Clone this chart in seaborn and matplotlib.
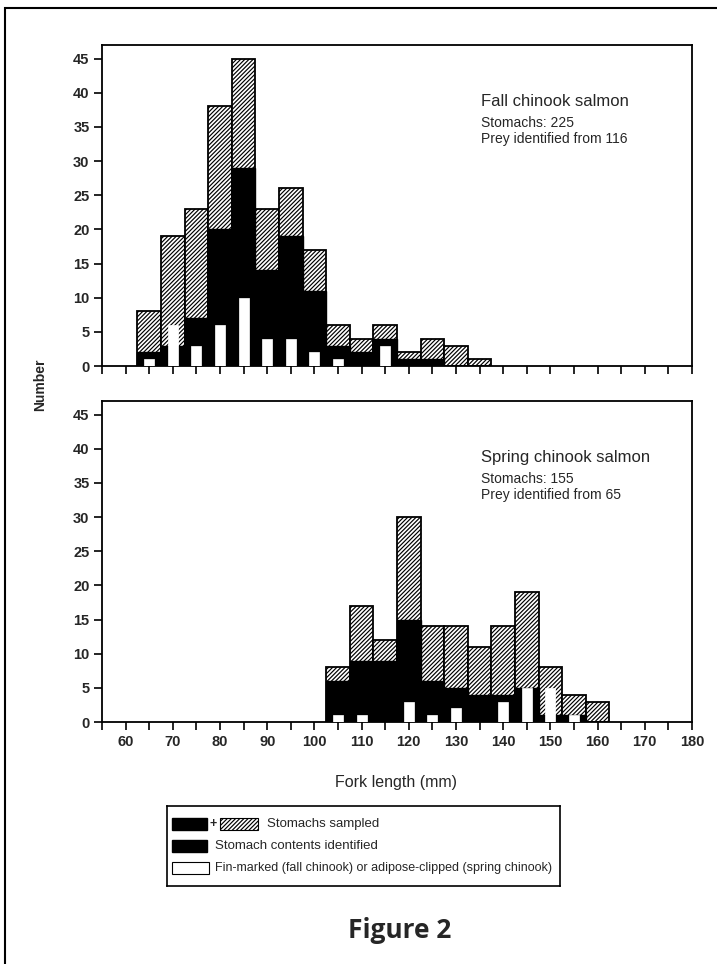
import matplotlib
matplotlib.use("Agg")
import matplotlib.pyplot as plt
import seaborn as sns
import numpy as np
from matplotlib.patches import Rectangle

sns.set_style("white")
plt.rcParams['font.family'] = ['Liberation Sans', 'DejaVu Sans']
plt.rcParams['hatch.linewidth'] = 0.85

# ---- data ----
fall_length = [65, 70, 75, 80, 85, 90, 95, 100, 105, 110, 115, 120, 125, 130, 135]
fall_sampled = [8, 19, 23, 38, 45, 23, 26, 17, 6, 4, 6, 2, 4, 3, 1]
fall_identified = [2, 3, 7, 20, 29, 14, 19, 11, 3, 2, 4, 1, 1, 0, 0]
fall_marked = [1, 6, 3, 6, 10, 4, 4, 2, 1, 0, 3, 0, 0, 0, 0]

spring_length = [105, 110, 115, 120, 125, 130, 135, 140, 145, 150, 155, 160]
spring_sampled = [8, 17, 12, 30, 14, 14, 11, 14, 19, 8, 4, 3]
spring_identified = [6, 9, 9, 15, 6, 5, 4, 4, 5, 1, 1, 0]
spring_marked = [1, 1, 0, 3, 1, 2, 0, 3, 5, 5, 1, 0]

y_ticks = [0, 5, 10, 15, 20, 25, 30, 35, 40, 45]
x_ticks = [60, 70, 80, 90, 100, 110, 120, 130, 140, 150, 160, 170, 180]

panels = [
    ("Fall chinook salmon", "Stomachs: 225", "Prey identified from 116",
     fall_length, fall_sampled, fall_identified, fall_marked),
    ("Spring chinook salmon", "Stomachs: 155", "Prey identified from 65",
     spring_length, spring_sampled, spring_identified, spring_marked),
]

HATCH = "////////"
W, H = 717, 964
fig = plt.figure(figsize=(W / 100, H / 100), dpi=100)

def fx(px):
    return px / W

def fy(py):
    return 1 - py / H

ax_left, ax_right = 102, 692
positions = [(45, 366), (401, 722)]

axes = []
for (top, bottom), (title, l1, l2, xs, samp, ident, mark) in zip(positions, panels):
    ax = fig.add_axes([fx(ax_left), fy(bottom), fx(ax_right - ax_left), (bottom - top) / H])
    axes.append(ax)
    sns.barplot(x=xs, y=samp, native_scale=True, width=1.0, color="white",
                saturation=1, edgecolor="black", linewidth=1.3, hatch=HATCH,
                ax=ax, zorder=2)
    sns.barplot(x=xs, y=ident, native_scale=True, width=1.0, color="black",
                saturation=1, edgecolor="black", linewidth=1.0, ax=ax, zorder=3)
    sns.barplot(x=xs, y=mark, native_scale=True, width=0.42, color="white",
                saturation=1, edgecolor="white", linewidth=0.5, ax=ax, zorder=4)
    ax.set_xlim(55, 180)
    ax.set_ylim(0, 47)
    ax.set_yticks(y_ticks)
    ax.set_xticks(x_ticks)
    ax.set_xticks(list(range(55, 180, 10)), minor=True)
    ax.tick_params(axis="both", which="both", direction="out", length=6, width=1.2,
                   color="black", labelsize=10.5, pad=3)
    ax.tick_params(axis="both", which="both", bottom=True, left=True, top=False, right=False)
    for lab in ax.get_yticklabels():
        lab.set_fontweight("bold")
    for sp in ax.spines.values():
        sp.set_visible(True)
        sp.set_color("black")
        sp.set_linewidth(1.3)
    ax.set_xlabel("")
    ax.set_ylabel("")
    ax.text(135.3, 38.7, title, fontsize=12, va="center", ha="left")
    ax.text(135.3, 35.6, l1, fontsize=10, va="center", ha="left")
    ax.text(135.3, 33.2, l2, fontsize=10, va="center", ha="left")

axes[0].set_xticklabels([])
for lab in axes[1].get_xticklabels():
    lab.set_fontweight("bold")

fig.text(fx(40), fy(385), "Number", rotation=90, fontsize=10, fontweight="bold",
         ha="center", va="center")
fig.text(fx(396), fy(783), "Fork length (mm)", fontsize=11.5, ha="center", va="center")

# legend box
LX0, LX1, LY0, LY1 = 167, 560, 806, 886
lg = fig.add_axes([fx(LX0), fy(LY1), fx(LX1 - LX0), (LY1 - LY0) / H])
lg.set_xlim(0, LX1 - LX0)
lg.set_ylim(LY1 - LY0, 0)
lg.set_xticks([])
lg.set_yticks([])
for sp in lg.spines.values():
    sp.set_visible(True)
    sp.set_linewidth(1.2)
    sp.set_color("black")
lg.set_facecolor("white")
rows = [18, 40, 62]
lg.add_patch(Rectangle((5, rows[0] - 6), 35, 12, facecolor="black", edgecolor="black"))
lg.text(46, rows[0], "+", fontsize=9, va="center", ha="center", fontweight="bold")
lg.add_patch(Rectangle((53, rows[0] - 6), 38, 12, facecolor="white", edgecolor="black",
                       hatch=HATCH, linewidth=0.8))
lg.text(100, rows[0], "Stomachs sampled", fontsize=9.5, va="center")
lg.add_patch(Rectangle((5, rows[1] - 6), 35, 12, facecolor="black", edgecolor="black"))
lg.text(48, rows[1], "Stomach contents identified", fontsize=9.5, va="center")
lg.add_patch(Rectangle((5, rows[2] - 6), 37, 12, facecolor="white", edgecolor="black",
                       linewidth=0.8))
lg.text(48, rows[2], "Fin-marked (fall chinook) or adipose-clipped (spring chinook)",
        fontsize=9, va="center")

fig.text(fx(400), fy(930), "Figure 2", fontsize=19, fontweight="bold",
         family=["Open Sans", "DejaVu Sans"], ha="center", va="center")

# outer frame
frame = Rectangle((fx(5), fy(990)), fx(760), (990 - 8) / H, transform=fig.transFigure,
                  facecolor="none", edgecolor="black", linewidth=1.5)
fig.patches.append(frame)

fig.savefig("out.png", dpi=100)
